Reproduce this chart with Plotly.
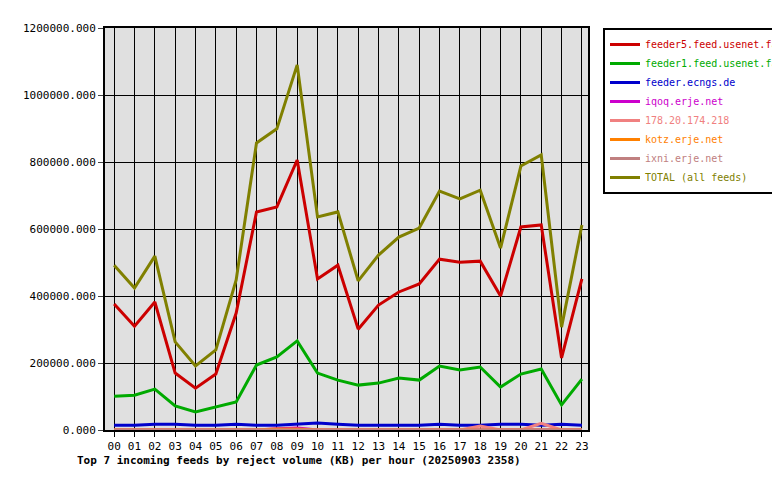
import plotly.graph_objects as go

hours = ["%02d" % h for h in range(24)]

feeder5 = [376000, 310000, 382000, 170000, 125000, 167000, 349000, 651000, 666000, 806000, 451000, 492000,
           301000, 373000, 412000, 436000, 510000, 501000, 504000, 400000, 606000, 612000, 215000, 451000]
feeder1 = [101000, 104000, 122000, 72000, 54000, 69000, 84000, 194000, 218000, 266000, 170000, 149000,
           134000, 140000, 155000, 149000, 191000, 179000, 188000, 128000, 167000, 182000, 75000, 152000]
ecngs = [14000, 14000, 17000, 17000, 14000, 14000, 17000, 14000, 14000, 17000, 21000, 17000,
         14000, 14000, 14000, 14000, 17000, 14000, 14000, 17000, 17000, 14000, 17000, 14000]
iqoq = [0, 0, 0, 0, 0, 0, 0, 0, 4000, 6000, 0, 0, 0, 0, 0, 0, 0, 0, 0, 0, 0, 0, 0, 0]
ip178 = [0, 0, 0, 0, 0, 0, 0, 0, 0, 0, 0, 0, 0, 0, 0, 0, 0, 0, 12000, 0, 0, 20000, 0, 0]
kotz = [0, 0, 0, 0, 0, 0, 0, 0, 3000, 3000, 0, 0, 0, 0, 0, 0, 0, 0, 0, 0, 0, 0, 0, 0]
ixni = [0] * 24
total = [492000, 424000, 519000, 263000, 191000, 239000, 448000, 857000, 899000, 1090000, 636000, 651000,
         445000, 522000, 576000, 603000, 713000, 690000, 716000, 543000, 788000, 821000, 307000, 612000]

series = [
    ("feeder5.feed.usenet.farm", feeder5, "#cc0000"),
    ("feeder1.feed.usenet.farm", feeder1, "#00aa00"),
    ("feeder.ecngs.de", ecngs, "#0000cc"),
    ("iqoq.erje.net", iqoq, "#cc00cc"),
    ("178.20.174.218", ip178, "#f08080"),
    ("kotz.erje.net", kotz, "#ff8000"),
    ("ixni.erje.net", ixni, "#c08080"),
    ("TOTAL (all feeds)", total, "#808000"),
]

fig = go.Figure()
for name, vals, col in series:
    # legend text coloured like the line
    fig.add_trace(go.Scatter(x=hours, y=vals, mode="lines",
                             name='<span style="color:%s">%s</span>' % (col, name),
                             line=dict(color=col, width=3)))

font = "DejaVu Sans Mono"
fig.update_layout(
    width=780, height=480,
    paper_bgcolor="white", plot_bgcolor="#e0e0e0",
    margin=dict(l=97, r=200, t=20, b=58, autoexpand=False),
    font=dict(family=font, size=11, color="black"),
    legend=dict(x=1.031, y=1.0, xanchor="left", yanchor="top",
                bordercolor="black", borderwidth=2, bgcolor="white",
                font=dict(family=font, size=10), itemwidth=30, tracegroupgap=0),
    xaxis=dict(type="category", range=[-0.45, 23.3], showgrid=True, gridcolor="black",
               gridwidth=1, showline=True, linecolor="black", linewidth=2, mirror=True,
               ticks="outside", ticklen=5, tickcolor="black"),
    yaxis=dict(range=[0, 1200000], dtick=200000, tickformat=".3f", showgrid=True,
               gridcolor="black", gridwidth=1, showline=True, linecolor="black",
               linewidth=2, mirror=True, ticks="outside", ticklen=5, zeroline=False),
    annotations=[dict(text="<b>Top 7 incoming feeds by reject volume (KB) per hour (20250903 2358)</b>",
                      xref="paper", yref="paper", x=-0.062, y=-0.075, xanchor="left",
                      yanchor="middle", showarrow=False, font=dict(family=font, size=11))],
)

fig.write_html("out.html")
